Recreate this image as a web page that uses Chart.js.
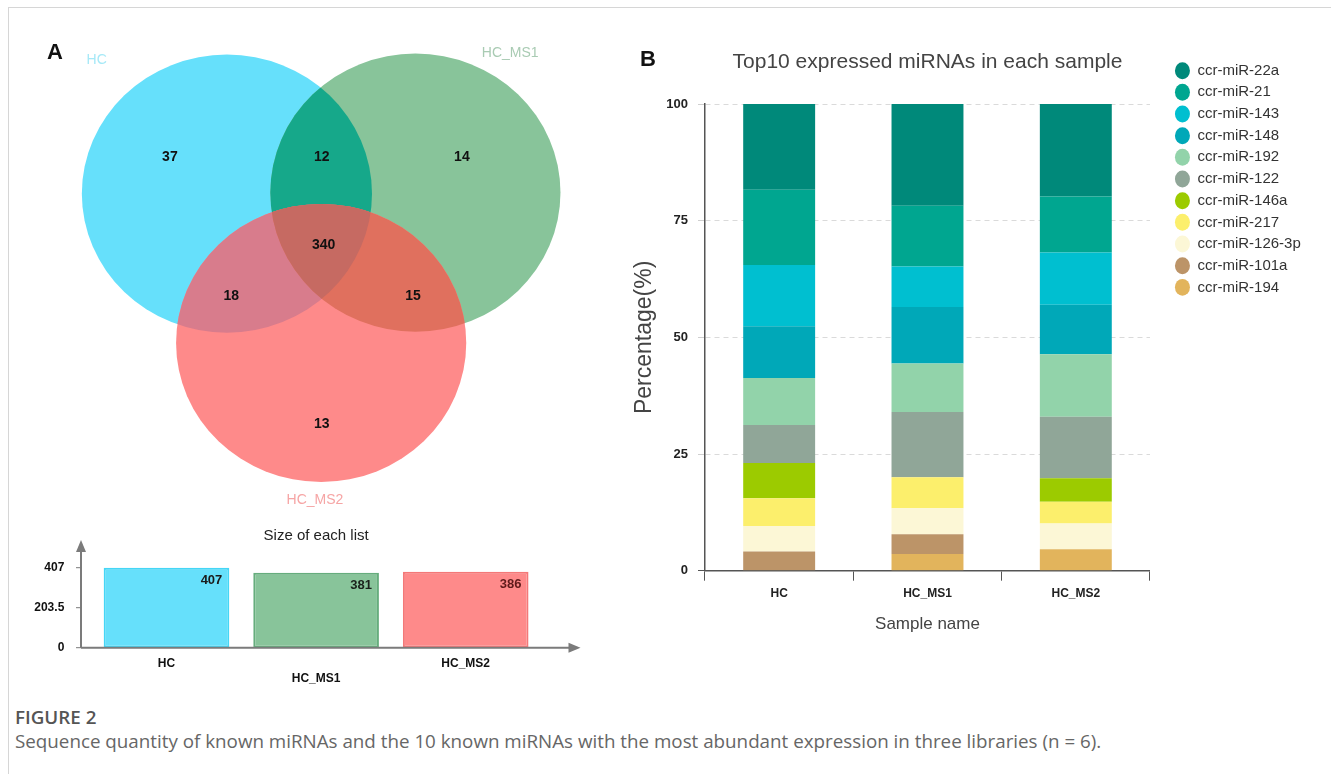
<!DOCTYPE html>
<html>
<head>
<meta charset="utf-8">
<script src="https://cdn.jsdelivr.net/npm/chart.js@4.4.1/dist/chart.umd.min.js"></script>
<style>
  html, body { margin: 0; padding: 0; background: #fff; }
  body { width: 1331px; height: 774px; position: relative; overflow: hidden;
         font-family: "Liberation Sans", Arial, sans-serif; }
  .frame { position: absolute; left: 8px; top: 7px; width: 1323px; height: 767px;
           border-top: 1px solid #d6d6d6; border-left: 1px solid #d6d6d6; }
  canvas { position: absolute; }
  .tag { position: absolute; font: bold 22px "Liberation Sans", Arial, sans-serif; color: #111; line-height: 22px; }
  .fig-no { position: absolute; left: 15px; top: 706px; font: 600 18.8px "Open Sans", sans-serif; color: #555; line-height: 22px; }
  .fig-text { position: absolute; left: 15px; top: 730px; font: 18.8px "Open Sans", sans-serif; color: #666; line-height: 22px; white-space: nowrap; }
</style>
</head>
<body>
<div class="frame"></div>
<canvas id="venn" width="620" height="515" style="left:0;top:0;width:620px;height:515px"></canvas>
<canvas id="sizes" width="620" height="180" style="left:0;top:515px;width:620px;height:180px"></canvas>
<canvas id="top10" width="711" height="619" style="left:620px;top:20px;width:711px;height:619px"></canvas>
<div class="tag" style="left:47px;top:41px">A</div>
<div class="tag" style="left:640px;top:48px">B</div>
<div class="fig-no">FIGURE 2</div>
<div class="fig-text">Sequence quantity of known miRNAs and the 10 known miRNAs with the most abundant expression in three libraries (n = 6).</div>

<script>
// ---------- data ----------
const vennSets = ['HC', 'HC_MS1', 'HC_MS2'];
// region counts: HC only, HC_MS1 only, HC_MS2 only, HC∩HC_MS1, HC∩HC_MS2, HC_MS1∩HC_MS2, all three
const vennCounts = [37, 14, 13, 12, 18, 15, 340];

const listSizes = [407, 381, 386];
const sizeTicks = [0, 203.5, 407];

const samples = ['HC', 'HC_MS1', 'HC_MS2'];
const percentTicks = [0, 25, 50, 75, 100];

// percentage of each miRNA per sample (HC, HC_MS1, HC_MS2)
const mir22a  = [18.4, 21.8, 19.8];
const mir21   = [16.1, 13.0, 12.0];
const mir143  = [13.1, 8.7, 11.2];
const mir148  = [11.1, 12.1, 10.6];
const mir192  = [10.1, 10.4, 13.4];
const mir122  = [8.1, 14.0, 13.2];
const mir146a = [7.6, 0, 5.0];
const mir217  = [5.9, 6.6, 4.7];
const mir126  = [5.5, 5.6, 5.5];
const mir101a = [4.1, 4.2, 0];
const mir194  = [0, 3.6, 4.6];

// ---------- styling / layout ----------
Chart.defaults.font.family = '"Liberation Sans", Arial, sans-serif';

// Venn geometry in a 0–100 frame of the panel (x right, y down)
const vennShapes = [
  { cx: 36.6, cy: 37.6, rx: 23.4, ry: 27.0 },
  { cx: 67.0, cy: 37.4, rx: 23.4, ry: 27.0 },
  { cx: 51.8, cy: 66.6, rx: 23.4, ry: 27.0 }
];
const vennFill   = ['#66e0fb', '#88c49a', '#fe8a8a'];
const pairFill   = ['#16a88a', '#d87c8c', '#e0705e'];
const tripleFill = '#c66a62';
const regionAnchors = [[27.4, 30.5], [74.5, 30.5], [51.9, 82.3], [51.9, 30.5], [37.3, 57.6], [66.6, 57.6], [52.2, 47.6]];
const setLabelAnchors = [[15.6, 11.7], [82.3, 10.3], [50.8, 97.1]];
const setLabelColors = ['#a6e9f7', '#a9cbb3', '#f6a5a5'];

function ellipsePath(ctx, sx, sy, s) {
  const x = sx.getPixelForValue(s.cx), y = sy.getPixelForValue(s.cy);
  const rx = Math.abs(sx.getPixelForValue(s.cx + s.rx) - x);
  const ry = Math.abs(sy.getPixelForValue(s.cy + s.ry) - y);
  ctx.beginPath();
  ctx.ellipse(x, y, rx, ry, 0, 0, Math.PI * 2);
}

const vennPlugin = {
  id: 'venn',
  beforeDatasetsDraw(chart) {
    const { ctx, scales: { x: sx, y: sy } } = chart;
    ctx.save();
    vennShapes.forEach((s, i) => { ellipsePath(ctx, sx, sy, s); ctx.fillStyle = vennFill[i]; ctx.fill(); });
    [[0, 1], [0, 2], [1, 2]].forEach(([a, b], k) => {
      ctx.save();
      ellipsePath(ctx, sx, sy, vennShapes[a]); ctx.clip();
      ellipsePath(ctx, sx, sy, vennShapes[b]); ctx.fillStyle = pairFill[k]; ctx.fill();
      ctx.restore();
    });
    ctx.save();
    ellipsePath(ctx, sx, sy, vennShapes[0]); ctx.clip();
    ellipsePath(ctx, sx, sy, vennShapes[1]); ctx.clip();
    ellipsePath(ctx, sx, sy, vennShapes[2]); ctx.fillStyle = tripleFill; ctx.fill();
    ctx.restore();
    ctx.restore();
  },
  afterDatasetsDraw(chart) {
    const { ctx, scales: { x: sx, y: sy } } = chart;
    const meta = chart.getDatasetMeta(0);
    ctx.save();
    ctx.textAlign = 'center';
    ctx.textBaseline = 'middle';
    ctx.font = 'bold 14px "Liberation Sans", Arial, sans-serif';
    ctx.fillStyle = '#111';
    meta.data.forEach((pt, i) => ctx.fillText(String(vennCounts[i]), pt.x, pt.y));
    ctx.font = '14px "Liberation Sans", Arial, sans-serif';
    vennSets.forEach((name, i) => {
      ctx.fillStyle = setLabelColors[i];
      ctx.fillText(name, sx.getPixelForValue(setLabelAnchors[i][0]), sy.getPixelForValue(setLabelAnchors[i][1]));
    });
    ctx.restore();
  }
};

new Chart(document.getElementById('venn'), {
  type: 'scatter',
  data: { datasets: [{ data: regionAnchors.map(([x, y]) => ({ x, y })), pointRadius: 0 }] },
  options: {
    responsive: false, animation: false, events: [],
    layout: { padding: 0 },
    scales: {
      x: { type: 'linear', min: 0, max: 100, display: false },
      y: { type: 'linear', min: 0, max: 100, reverse: true, display: false }
    },
    plugins: { legend: { display: false }, tooltip: { enabled: false } }
  },
  plugins: [vennPlugin]
});

// ---------- size of each list ----------
const sizeValueColors = ['#1b1b1b', '#1b221c', '#5e1a1a'];
const sizeAxesPlugin = {
  id: 'sizeAxes',
  afterDatasetsDraw(chart) {
    const { ctx, chartArea: ca, scales: { y } } = chart;
    const base = y.getPixelForValue(0);
    const left = ca.left - 10.7;
    ctx.save();
    ctx.strokeStyle = '#7b7b7b';
    ctx.fillStyle = '#7b7b7b';
    ctx.lineWidth = 2;
    ctx.beginPath();
    ctx.moveTo(left, base); ctx.lineTo(ca.right + 30, base);
    ctx.moveTo(left, base); ctx.lineTo(left, ca.top - 1);
    ctx.stroke();
    // arrow heads
    ctx.beginPath();
    ctx.moveTo(ca.right + 40, base); ctx.lineTo(ca.right + 28, base - 5); ctx.lineTo(ca.right + 28, base + 5); ctx.closePath();
    ctx.fill();
    ctx.beginPath();
    ctx.moveTo(left, ca.top - 10); ctx.lineTo(left - 5, ca.top + 2); ctx.lineTo(left + 5, ca.top + 2); ctx.closePath();
    ctx.fill();
    // small tick marks on the value axis
    ctx.lineWidth = 1;
    sizeTicks.forEach(v => {
      const py = y.getPixelForValue(v);
      ctx.beginPath(); ctx.moveTo(left - 5, py); ctx.lineTo(left, py); ctx.stroke();
    });
    // values inside the bars
    ctx.font = 'bold 13px "Liberation Sans", Arial, sans-serif';
    ctx.textAlign = 'right';
    ctx.textBaseline = 'middle';
    chart.getDatasetMeta(0).data.forEach((bar, i) => {
      ctx.fillStyle = sizeValueColors[i];
      ctx.fillText(String(listSizes[i]), bar.x + bar.width / 2 - 7, bar.y + 13);
    });
    ctx.restore();
  }
};

new Chart(document.getElementById('sizes'), {
  type: 'bar',
  data: {
    labels: samples,
    datasets: [{
      data: listSizes,
      backgroundColor: ['#66e0fb', '#88c49a', '#fe8a8a'],
      borderColor: ['#45d6f6', '#66ad7d', '#f47878'],
      borderWidth: 2,
      borderSkipped: false,
      categoryPercentage: 0.84,
      barPercentage: 1
    }]
  },
  options: {
    responsive: false, animation: false, events: [],
    layout: { padding: { left: 30, right: 79.5, top: 0, bottom: 0 } },
    scales: {
      x: {
        grid: { display: false }, border: { display: false },
        ticks: {
          color: '#111', font: { size: 12, weight: 'bold' }, padding: 1,
          callback(v, i) { const l = this.getLabelForValue(v); return i % 2 ? ['', l] : l; }
        },
        afterFit(s) { s.height = 47.3; }
      },
      y: {
        min: 0, max: 497,
        grid: { display: false }, border: { display: false },
        afterBuildTicks(s) { s.ticks = sizeTicks.map(v => ({ value: v })); },
        ticks: { color: '#111', font: { size: 12, weight: 'bold' }, padding: 19.4, callback: v => String(v) },
        afterFit(s) { s.width = 61.7; }
      }
    },
    plugins: {
      legend: { display: false }, tooltip: { enabled: false },
      title: { display: true, text: 'Size of each list', color: '#222', fullSize: false,
               font: { size: 15, weight: 'normal' }, padding: { top: 12, bottom: 5 } }
    }
  },
  plugins: [sizeAxesPlugin]
});

// ---------- top 10 miRNAs ----------
const mirNames = ['ccr-miR-194', 'ccr-miR-101a', 'ccr-miR-126-3p', 'ccr-miR-217', 'ccr-miR-146a',
                  'ccr-miR-122', 'ccr-miR-192', 'ccr-miR-148', 'ccr-miR-143', 'ccr-miR-21', 'ccr-miR-22a'];
const mirValues = [mir194, mir101a, mir126, mir217, mir146a, mir122, mir192, mir148, mir143, mir21, mir22a];
const mirColors = ['#e2b45c', '#bc9468', '#fcf7d6', '#fcef6c', '#9ccb00',
                   '#90a698', '#92d3aa', '#00a8b8', '#00bfd0', '#00a690', '#00897a'];

new Chart(document.getElementById('top10'), {
  type: 'bar',
  data: {
    labels: samples,
    datasets: mirNames.map((name, i) => ({
      label: name, data: mirValues[i], backgroundColor: mirColors[i], borderWidth: 0,
      categoryPercentage: 0.485, barPercentage: 1
    }))
  },
  options: {
    responsive: false, animation: false, events: [],
    layout: { padding: { left: 0, right: 20.2, top: 0, bottom: 0 } },
    scales: {
      x: {
        stacked: true,
        grid: { drawOnChartArea: false, tickLength: 10, color: '#555', offset: true },
        border: { color: '#555', width: 1.5 },
        ticks: { color: '#222', font: { size: 12, weight: 'bold' }, padding: 6 },
        title: { display: true, text: 'Sample name', color: '#444', font: { size: 17 }, padding: { top: 0, bottom: 4 } },
        afterFit(s) { s.height = 68.3; }
      },
      y: {
        stacked: true, min: 0, max: 100,
        afterBuildTicks(s) { s.ticks = percentTicks.map(v => ({ value: v })); },
        ticks: { color: '#222', font: { size: 13, weight: 'bold' }, padding: 10 },
        grid: { color: '#dadada', tickLength: 7,
                tickColor: c => (c.tick && c.tick.value === 0 ? '#555' : '#cfcfcf') },
        border: { color: '#555', width: 1.5, dash: [5, 4] },
        title: { display: true, text: 'Percentage(%)', color: '#444', font: { size: 23 }, padding: { top: 11, bottom: 0 } },
        afterFit(s) { s.width = 85; }
      },
      yGap: {
        axis: 'y', type: 'linear', position: 'right', display: true,
        grid: { display: false }, border: { display: false }, ticks: { display: false },
        afterFit(s) { s.width = 18.3; }
      }
    },
    plugins: {
      tooltip: { enabled: false },
      title: { display: true, text: 'Top10 expressed miRNAs in each sample', color: '#444', fullSize: false,
               font: { size: 21, weight: 'normal' }, padding: { top: 29.4, bottom: 29.4 } },
      legend: {
        position: 'right', align: 'start', reverse: true, maxWidth: 220,
        title: { display: true, text: '', padding: { top: 22.1, bottom: 0 } },
        labels: { usePointStyle: true, pointStyle: 'circle', boxWidth: 15, boxHeight: 12, pointStyleWidth: 15,
                  padding: 6.67, color: '#333', font: { size: 15 } }
      }
    }
  }
});
</script>
</body>
</html>
